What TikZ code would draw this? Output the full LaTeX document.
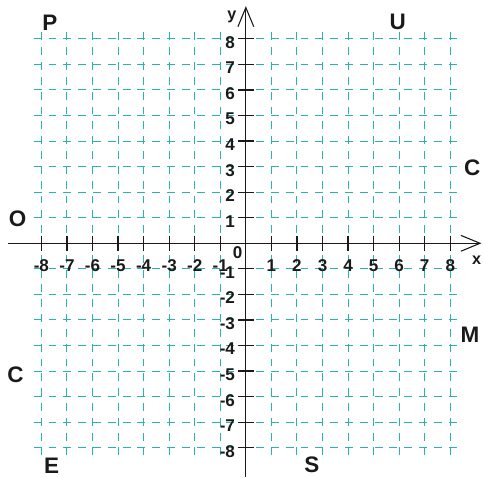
\documentclass[tikz,border=0pt]{standalone}
\usepackage{fontspec}
\setmainfont{Liberation Sans}
\usetikzlibrary{arrows.meta}
\definecolor{gridteal}{HTML}{2AB3AE}
\definecolor{ink}     {HTML}{1A1A1A}
\tikzset{
  gridline/.style={draw=gridteal,line width=1.1pt,dash pattern=on 3.1mm off 2.7mm},
  axisline/.style={draw=ink,line width=1.4pt,
                   -{Straight Barb[length=7.5mm,width=6.2mm,line width=1.2pt]}},
  tickmark/.style={draw=ink,line width=1.4pt},
  ticklab/.style={font=\fontsize{19}{20}\selectfont\bfseries,inner sep=0pt,text=ink},
  axislab/.style={font=\fontsize{18}{20}\selectfont\bfseries,inner sep=0pt,text=ink},
  cornerlab/.style={font=\fontsize{25}{26}\selectfont\bfseries,inner sep=0pt,text=ink}
}

\begin{document}
\begin{tikzpicture}
      \useasboundingbox (-9.62,-9.15) rectangle (9.28,9.52);
      % dashed grid
      \foreach \i in {-8,...,8}{
        \draw[gridline] (\i,-8.3) -- (\i,8.3);
        \draw[gridline] (-8.3,\i) -- (8.3,\i);
      }
      % axes
      \coordinate (xstart) at (-9.31,0);
      \coordinate (xend)   at (9.22,0);
      \coordinate (ystart) at (0,-9.15);
      \coordinate (yend)   at (0,9.28);
      \draw[axisline] (xstart) -- (xend);
      \draw[axisline] (ystart) -- (yend);
      % ticks and numbers
      \foreach \i in {-8,...,-1,1,2,...,8}{
        \draw[tickmark] (\i,-0.3) -- (\i,0.3);
        \draw[tickmark] (-0.3,\i) -- (0.3,\i);
        \node[ticklab] (xnum\i) at (\i,-0.87) {\i};
        \node[ticklab,anchor=east] (ynum\i) at (-0.42,\i-0.14) {\i};
      }
      \node[ticklab] (orig) at (-0.32,-0.38) {0};
      \node[axislab] (xname) at (9.03,-0.65) {x};
      \node[axislab] (yname) at (-0.55,8.87) {y};
      % letters round the grid
      \node[cornerlab] (lP)  at (-7.67,8.64)  {P};
      \node[cornerlab] (lU)  at (5.94,8.67)   {U};
      \node[cornerlab] (lC1) at (8.86,2.94)   {C};
      \node[cornerlab] (lO)  at (-8.93,0.96)  {O};
      \node[cornerlab] (lM)  at (8.77,-3.59)  {M};
      \node[cornerlab] (lC2) at (-9.01,-5.15) {C};
      \node[cornerlab] (lE)  at (-7.60,-8.72) {E};
      \node[cornerlab] (lS)  at (2.58,-8.65)  {S};
    \end{tikzpicture}
\end{document}
